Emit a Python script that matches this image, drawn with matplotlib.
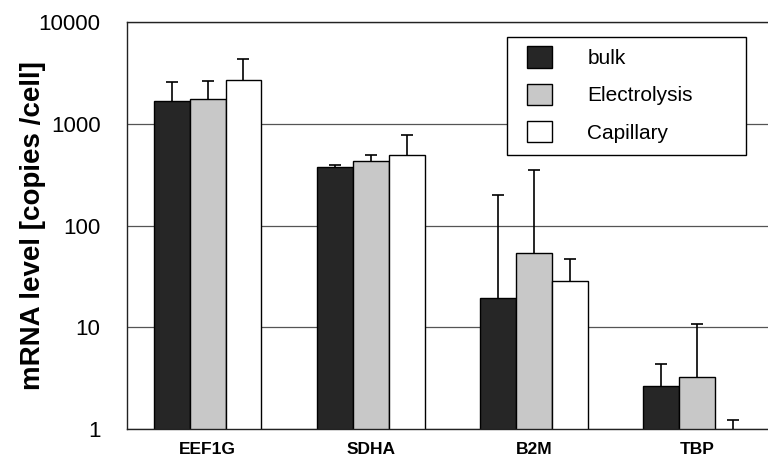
import numpy as np
import matplotlib
matplotlib.use("Agg")
import matplotlib.pyplot as plt
from matplotlib.patches import Rectangle

plt.rcParams['font.family'] = ['Liberation Sans', 'DejaVu Sans']

genes = ['EEF1G', 'SDHA', 'B2M', 'TBP']
series = ['bulk', 'Electrolysis', 'Capillary']

bulk = [1680, 375, 19.5, 2.65]
bulk_err = [890, 15, 180, 1.7]
electro = [1750, 430, 54, 3.25]
electro_err = [880, 65, 297, 7.6]
capillary = [2700, 495, 28.5, 0.6]
capillary_err = [1630, 280, 18, 0.62]

y_ticks = [1, 10, 100, 1000, 10000]
y_ticklabels = ['1', '10', '100', '1000', '10000']

fig = plt.figure(figsize=(7.68, 4.59), dpi=100)
ax = fig.add_axes([127 / 768, 1 - 429 / 459, 641 / 768, 407 / 459])

x = np.arange(len(genes))
w = 0.22
colors = ['#262626', '#c8c8c8', 'white']
data = [(bulk, bulk_err), (electro, electro_err), (capillary, capillary_err)]

handles = []
for i, (vals, errs) in enumerate(data):
    pos = x + (i - 1) * w
    vals = np.array(vals)
    errs = np.array(errs)
    b = ax.bar(pos, vals, width=w, color=colors[i], edgecolor='black',
               linewidth=1.0, zorder=2, label=series[i])
    handles.append(b)
    # only the upper half of the error bar, with a cap on top
    ax.errorbar(pos, vals, yerr=[np.zeros(len(vals)), errs], fmt='none',
                ecolor='black', elinewidth=1.2, capsize=0, zorder=3)
    ax.plot(pos, vals + errs, ls='none', marker='_', ms=9, mew=1.2,
            color='black', zorder=3)

ax.set_yscale('log')
ax.set_ylim(1, 10000)
ax.set_xlim(-0.494, 3.436)
ax.set_yticks(y_ticks)
ax.set_yticklabels(y_ticklabels)
ax.yaxis.set_minor_locator(matplotlib.ticker.NullLocator())
ax.set_xticks(x)
ax.set_xticklabels(genes, fontweight='bold', fontsize=12.5)
ax.tick_params(axis='y', length=0, pad=19, labelsize=16)
ax.tick_params(axis='x', length=0, pad=9)

ax.yaxis.grid(True, color='#555555', linewidth=0.9)
ax.set_axisbelow(True)
ax.spines['right'].set_visible(False)
for s in ['top', 'left', 'bottom']:
    ax.spines[s].set_color('#222222')
    ax.spines[s].set_linewidth(1.0)

ax.set_ylabel('mRNA level [copies /cell]', fontsize=20, fontweight='bold',
              labelpad=-5)

# legend box drawn by hand so it can be wider than its contents
ax.add_patch(Rectangle((0.593, 0.673), 0.373, 0.29, transform=ax.transAxes,
                       facecolor='white', edgecolor='black', linewidth=1.0,
                       zorder=5))
ax.legend(handles=handles, loc='upper left', bbox_to_anchor=(0.624, 0.940),
          borderaxespad=0, borderpad=0, frameon=False, fontsize=15,
          handlelength=1.2, handleheight=1.2, handletextpad=1.7,
          labelspacing=0.75).set_zorder(6)

fig.savefig('out.png', dpi=100)
